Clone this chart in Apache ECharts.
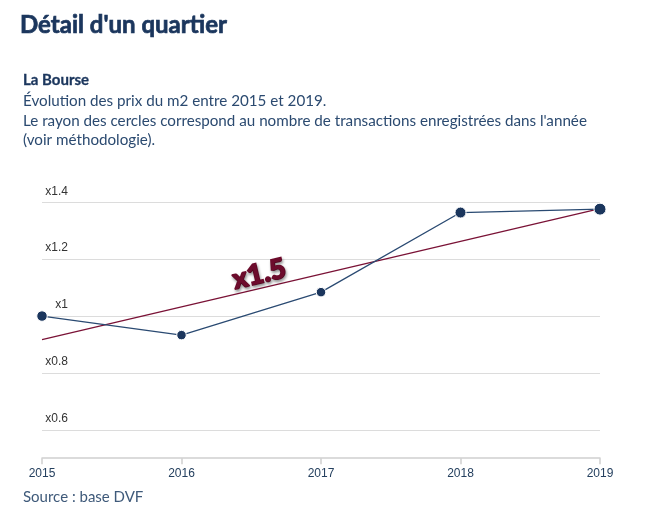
<!DOCTYPE html>
<html>
<head>
<meta charset="utf-8">
<script src="https://cdn.jsdelivr.net/npm/echarts@6/dist/echarts.min.js"></script>
<style>
html,body{margin:0;padding:0;background:#fff;}
#chart{width:670px;height:527px;}
</style>
</head>
<body>
<div id="chart"></div>
<script>
// ---- data ----
var years = ['2015', '2016', '2017', '2018', '2019'];
var priceIndex = [1.0, 0.933, 1.084, 1.364, 1.376];
var transactionRadius = [10.5, 9.5, 9.5, 11, 12];   // circle size ~ number of transactions
var trendStart = 0.917;
var trendEnd = 1.378;
var yTickLabels = {0.6: 'x0.6', 0.8: 'x0.8', 1: 'x1', 1.2: 'x1.2', 1.4: 'x1.4'};
var titleText = "Détail d'un quartier";
var placeName = 'La Bourse';
var bodyText = "Évolution des prix du m2 entre 2015 et 2019.\nLe rayon des cercles correspond au nombre de transactions enregistrées dans l'année\n(voir méthodologie).";
var sourceText = 'Source : base DVF';

var FONT = 'Lato';
var chart = echarts.init(document.getElementById('chart'), null, {renderer: 'canvas'});

var lineData = priceIndex.map(function (v, i) {
  return {value: v, symbolSize: transactionRadius[i]};
});

var option = {
  animation: false,
  backgroundColor: '#fff',
  title: [
    {text: titleText, left: 20, top: 10, padding: 0,
     textStyle: {fontFamily: FONT, fontSize: 24, fontWeight: 'bold', color: '#1b365d', lineHeight: 30,
                 textBorderColor: '#1b365d', textBorderWidth: 0.7}},
    {text: placeName, left: 23, top: 70, padding: 0,
     textStyle: {fontFamily: FONT, fontSize: 15, fontWeight: 'bold', color: '#1b365d', lineHeight: 20,
                 textBorderColor: '#1b365d', textBorderWidth: 0.3}},
    {text: bodyText, left: 23, top: 91.5, padding: 0,
     textStyle: {fontFamily: FONT, fontSize: 15.2, fontWeight: 'normal', color: '#2b4a70', lineHeight: 19.5}},
    {text: sourceText, left: 23, top: 487.5, padding: 0,
     textStyle: {fontFamily: FONT, fontSize: 15, fontWeight: 'normal', color: '#3f5a7a', lineHeight: 20}}
  ],
  grid: {left: 42, right: 70, top: 202.3, bottom: 40.3, containLabel: false},
  xAxis: {
    type: 'category',
    data: years,
    boundaryGap: false,
    offset: -28.5,
    axisLine: {show: true, lineStyle: {color: '#cfcfcf', width: 1.5}},
    axisTick: {show: true, length: 6, lineStyle: {color: '#cfcfcf', width: 1.5}},
    axisLabel: {margin: 9, fontFamily: 'Liberation Sans', fontSize: 12, color: '#25405f'},
    splitLine: {show: false}
  },
  yAxis: {
    type: 'value',
    min: 0.4, max: 1.4, interval: 0.2,
    axisLine: {show: false},
    axisTick: {show: false},
    splitLine: {show: true, showMinLine: false, lineStyle: {color: '#dcdcdc', width: 1.2}},
    axisLabel: {
      inside: true, margin: 26, align: 'right', verticalAlign: 'bottom',
      padding: [0, 0, 4, 0], lineHeight: 14,
      showMinLabel: false,
      fontFamily: 'Liberation Sans', fontSize: 12, color: '#333',
      formatter: function (v) {
        var k = Math.round(v * 10) / 10;
        return yTickLabels[k] || '';
      }
    }
  },
  series: [
    {
      name: 'tendance', type: 'line',
      data: [[0, trendStart], [years.length - 1, trendEnd]],
      showSymbol: false, symbol: 'none',
      lineStyle: {color: '#7a1236', width: 1.3},
      z: 2, silent: true
    },
    {
      name: 'prix', type: 'line',
      data: lineData,
      symbol: 'circle',
      itemStyle: {color: '#1b365d', borderColor: '#fff', borderWidth: 1},
      lineStyle: {color: '#2a4a72', width: 1.3},
      z: 3
    }
  ]
};
chart.setOption(option);

// ratio label along the trend line
var p0 = chart.convertToPixel({gridIndex: 0}, [0, trendStart]);
var p1 = chart.convertToPixel({gridIndex: 0}, [years.length - 1, trendEnd]);
var ang = Math.atan2(p0[1] - p1[1], p1[0] - p0[0]);
var t = 0.395;
var mx = p0[0] + (p1[0] - p0[0]) * t;
var my = p0[1] + (p1[1] - p0[1]) * t;
var off = 14;
var lx = mx - Math.sin(ang) * off;
var ly = my - Math.cos(ang) * off;
var ratio = 'x' + (trendEnd / trendStart).toFixed(1);
chart.setOption({
  graphic: [{
    type: 'text', x: lx, y: ly, rotation: ang, z: 10,
    style: {
      text: ratio, x: 0, y: 0, align: 'center', verticalAlign: 'middle',
      fontFamily: FONT, fontSize: 28, fontWeight: 900, fill: '#6d0b2c',
      stroke: '#6d0b2c', lineWidth: 1.6,
      textShadowColor: 'rgba(0,0,0,0.35)', textShadowBlur: 3, textShadowOffsetX: 1, textShadowOffsetY: 2
    }
  }]
});
</script>
</body>
</html>
